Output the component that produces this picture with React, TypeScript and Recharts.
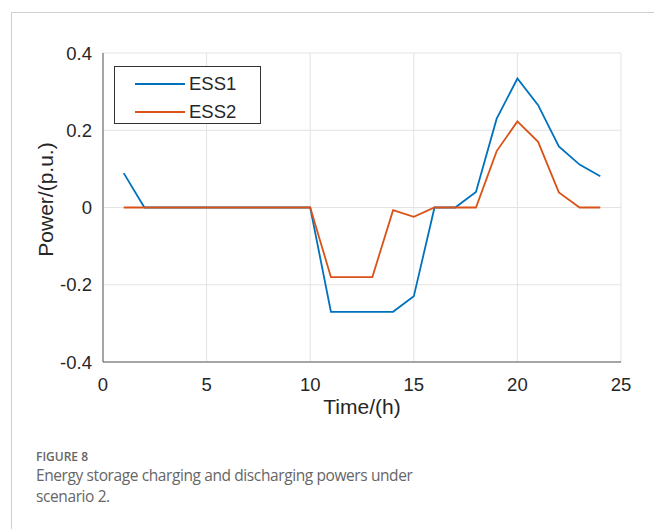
import { CartesianGrid, Legend, Line, LineChart, XAxis, YAxis } from "recharts";

const hours = [1, 2, 3, 4, 5, 6, 7, 8, 9, 10, 11, 12, 13, 14, 15, 16, 17, 18, 19, 20, 21, 22, 23, 24];
const ess1 = [0.089, 0, 0, 0, 0, 0, 0, 0, 0, 0, -0.27, -0.27, -0.27, -0.27, -0.23, 0, 0, 0.04, 0.23, 0.334, 0.265, 0.158, 0.111, 0.081];
const ess2 = [0, 0, 0, 0, 0, 0, 0, 0, 0, 0, -0.18, -0.18, -0.18, -0.007, -0.024, 0, 0, 0, 0.146, 0.223, 0.17, 0.039, 0, 0];
const xTicks = [0, 5, 10, 15, 20, 25];
const yTicks = [-0.4, -0.2, 0, 0.2, 0.4];

const series = [
  { key: "ess1", name: "ESS1", color: "#0072BD" },
  { key: "ess2", name: "ESS2", color: "#D95319" },
];

const rows = hours.map((hour, i) => ({ hour, ess1: ess1[i], ess2: ess2[i] }));

const FONT = '"Liberation Sans", Arial, sans-serif';
const AXIS = "#5a5a5a";
const TEXT = "#262626";

const fmtY = (v: number) => (v === 0 ? "0" : String(v));
const blank = () => "";

function LegendBox() {
  return (
    <div
      style={{
        width: 145,
        height: 53,
        border: "1px solid #333",
        background: "#fff",
        fontFamily: FONT,
        fontSize: 18.5,
        color: TEXT,
        paddingTop: 3,
        boxSizing: "content-box",
      }}
    >
      {series.map((s) => (
        <div key={s.key} style={{ display: "flex", alignItems: "center", height: 28 }}>
          <span
            style={{
              display: "inline-block",
              width: 50,
              height: 2,
              marginLeft: 20,
              marginRight: 4,
              background: s.color,
            }}
          />
          <span>{s.name}</span>
        </div>
      ))}
    </div>
  );
}

export default function App() {
  return (
    <div style={{ position: "absolute", left: 0, top: 0, width: 654, height: 529, background: "#fff", overflow: "hidden" }}>
      <div
        style={{
          position: "absolute",
          left: 11,
          top: 12,
          width: 660,
          height: 540,
          borderLeft: "1px solid #cfcfcf",
          borderTop: "1px solid #cfcfcf",
        }}
      />
      <div style={{ position: "absolute", left: 0, top: 0 }}>
        <LineChart width={654} height={420} data={rows} margin={{ top: 53, right: 33, bottom: 8, left: 53 }}>
          <CartesianGrid xAxisId="bottom" yAxisId="left" stroke="#e3e3e3" strokeWidth={1} />
          {/* inward tick marks on all four sides (box on) */}
          <XAxis
            xAxisId="bottomTicks"
            type="number"
            dataKey="hour"
            domain={[0, 25]}
            ticks={xTicks}
            allowDataOverflow
            mirror
            height={0}
            stroke={AXIS}
            tickSize={5}
            tickFormatter={blank}
          />
          <YAxis
            yAxisId="leftTicks"
            type="number"
            domain={[-0.4, 0.4]}
            ticks={yTicks}
            allowDataOverflow
            mirror
            width={0}
            stroke={AXIS}
            tickSize={5}
            tickFormatter={blank}
          />
          <XAxis
            xAxisId="top"
            dataKey="hour"
            type="number"
            orientation="top"
            domain={[0, 25]}
            ticks={xTicks}
            allowDataOverflow
            mirror
            height={0}
            stroke={AXIS}
            tickSize={5}
            tickFormatter={blank}
          />
          <YAxis
            yAxisId="right"
            type="number"
            orientation="right"
            domain={[-0.4, 0.4]}
            ticks={yTicks}
            allowDataOverflow
            mirror
            width={0}
            stroke={AXIS}
            tickSize={5}
            tickFormatter={blank}
          />
          <XAxis
            xAxisId="bottom"
            dataKey="hour"
            type="number"
            domain={[0, 25]}
            ticks={xTicks}
            allowDataOverflow
            height={50}
            stroke={AXIS}
            tickLine={false}
            tickMargin={10}
            tick={{ fill: TEXT, fontSize: 18.5, fontFamily: FONT }}
            label={{
              content: ({ viewBox }: any) => (
                <text
                  x={viewBox.x + viewBox.width / 2}
                  y={viewBox.y + 52}
                  textAnchor="middle"
                  fill={TEXT}
                  fontSize={21}
                  fontFamily={FONT}
                >
                  Time/(h)
                </text>
              ),
            }}
          />
          <YAxis
            yAxisId="left"
            type="number"
            domain={[-0.4, 0.4]}
            ticks={yTicks}
            allowDataOverflow
            width={50}
            stroke={AXIS}
            tickLine={false}
            tickMargin={5}
            tickFormatter={fmtY}
            tick={{ fill: TEXT, fontSize: 18.5, fontFamily: FONT }}
            label={{
              content: ({ viewBox }: any) => {
                const cx = viewBox.x;
                const cy = viewBox.y + viewBox.height / 2 - 8;
                return (
                  <text
                    x={cx}
                    y={cy}
                    transform={`rotate(-90 ${cx} ${cy})`}
                    textAnchor="middle"
                    fill={TEXT}
                    fontSize={21}
                    fontFamily={FONT}
                  >
                    Power/(p.u.)
                  </text>
                );
              },
            }}
          />
          <Legend
            layout="horizontal"
            verticalAlign="middle"
            align="center"
            content={() => <LegendBox />}
            wrapperStyle={{ position: "absolute", left: 114, top: 66, width: 147, height: 57 }}
          />
          {series.map((s) => (
            <Line
              key={s.key}
              xAxisId="bottom"
              yAxisId="left"
              dataKey={s.key}
              name={s.name}
              stroke={s.color}
              strokeWidth={1.8}
              dot={false}
              type="linear"
              isAnimationActive={false}
            />
          ))}
        </LineChart>
      </div>
      <div
        style={{
          position: "absolute",
          left: 36,
          top: 449,
          fontFamily: '"Open Sans", sans-serif',
          color: "#666",
        }}
      >
        <div style={{ fontSize: 12, fontWeight: 600, lineHeight: "16px" }}>FIGURE 8</div>
        <div style={{ fontSize: 15.5, letterSpacing: -0.4, lineHeight: "21px", width: 420 }}>
          Energy storage charging and discharging powers under
          <br />
          scenario 2.
        </div>
      </div>
    </div>
  );
}
